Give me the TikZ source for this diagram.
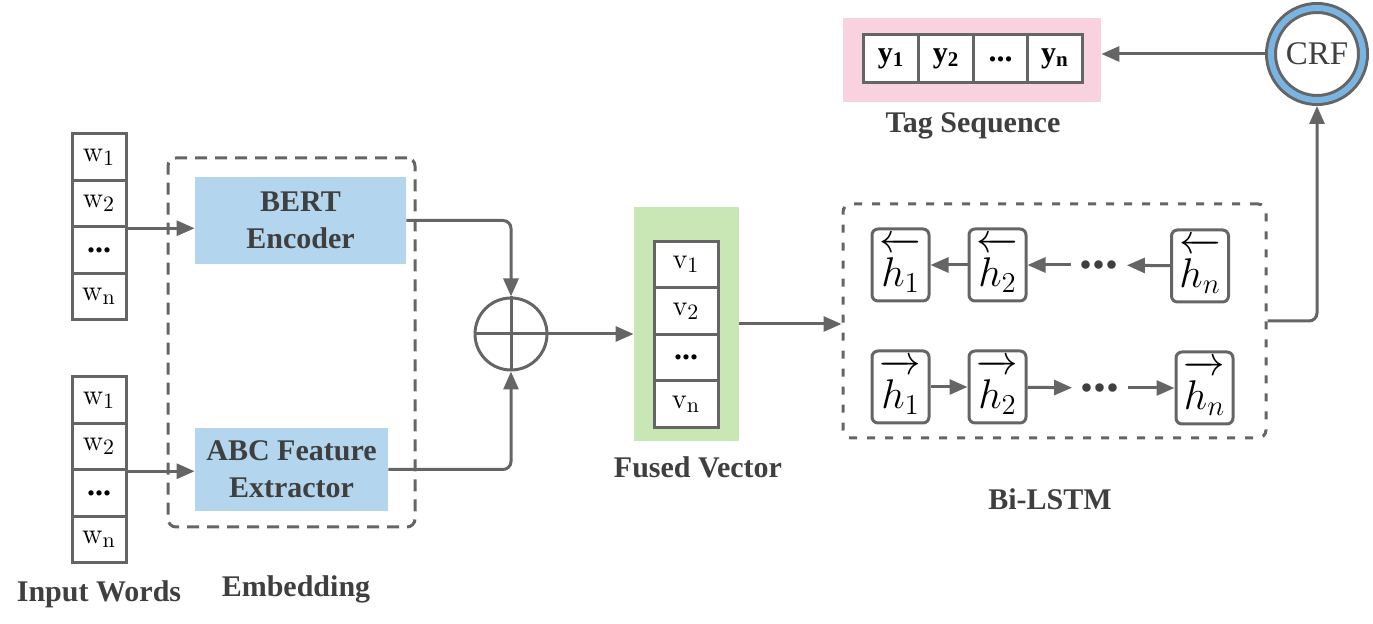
\documentclass[tikz,border=0pt]{standalone}
\usepackage{amsmath}
\usepackage[no-math]{fontspec}
\setmainfont{Liberation Serif}
\usetikzlibrary{arrows.meta}
\definecolor{linegray}{HTML}{656565}
\definecolor{textgray}{HTML}{3F3F3F}
\definecolor{bertblue}{HTML}{B3D6EE}
\definecolor{fusedgreen}{HTML}{C9E7B5}
\definecolor{tagpink}{HTML}{F8D3DF}
\definecolor{ringblue}{HTML}{79B4E2}
\newcommand{\celldots}{{\fontsize{16}{16}\selectfont\bfseries...}}
\newcommand{\bwd}[1]{\overleftarrow{\vrule height 0.86em width 0pt #1}}
\newcommand{\fwd}[1]{\overrightarrow{\vrule height 0.86em width 0pt #1}}
\tikzset{
    cell/.style={rectangle,draw=linegray,line width=1.5pt,fill=white,minimum width=27pt,minimum height=23.25pt,inner sep=0pt,font=\fontsize{15}{17}\selectfont},
    tagcell/.style={cell,minimum width=27.5pt,minimum height=24pt,font=\fontsize{15}{17}\selectfont\bfseries},
    encoder/.style={rectangle,fill=bertblue,align=center,text=textgray,font=\fontsize{15}{18.5}\selectfont\bfseries},
    group/.style={rectangle,draw=linegray,line width=1.5pt,dash pattern=on 6pt off 4pt,rounded corners=4pt},
    hidden/.style={rectangle,draw=linegray,line width=1.5pt,fill=white,rounded corners=3pt,minimum width=28.5pt,minimum height=36pt,inner sep=0pt,font=\fontsize{20}{24}\selectfont},
    ldots/.style={text=textgray,inner xsep=4pt,inner ysep=1pt,font=\fontsize{26}{26}\selectfont\bfseries},
    caption/.style={text=textgray,font=\fontsize{15}{18}\selectfont\bfseries},
    dedge/.style={->,>={Triangle[length=9pt,width=7.5pt]},draw=linegray,line width=1.5pt},
    edge/.style={-,draw=linegray,line width=1.5pt},
}
\begin{document}
\begin{tikzpicture}[x=0.5pt,y=-0.5pt]
    \useasboundingbox (0,0) rectangle (1373,624);
    % input words
    \node[cell] (wa1) at (99,157) {$\mathrm{w}_1$};
    \node[cell] (wa2) at (99,203.5) {$\mathrm{w}_2$};
    \node[cell] (wa3) at (99,250) {\celldots};
    \node[cell] (wa4) at (99,296.5) {$\mathrm{w}_\mathrm{n}$};
    \node[cell] (wb1) at (99,400) {$\mathrm{w}_1$};
    \node[cell] (wb2) at (99,446.5) {$\mathrm{w}_2$};
    \node[cell] (wb3) at (99,493) {\celldots};
    \node[cell] (wb4) at (99,539.5) {$\mathrm{w}_\mathrm{n}$};
    \node[caption] (inlabel) at (99,594) {Input Words};
    % embedding
    \node[group,minimum width=123.5pt,minimum height=184.5pt] (embed) at (291.5,342.5) {};
    \node[encoder,minimum width=105.5pt,minimum height=43.5pt] (bert) at (300.5,220.5) {BERT\\Encoder};
    \node[encoder,minimum width=96.5pt,minimum height=41.5pt] (abc) at (291.5,469.5) {ABC Feature\\Extractor};
    \node[caption] (emblabel) at (296,589) {Embedding};
    \node[circle,draw=linegray,line width=1.5pt,minimum size=36pt,inner sep=0pt] (plus) at (511,334) {};
    \draw[edge] (plus.north) -- (plus.south);
    \draw[edge] (plus.west) -- (plus.east);
    % fused vector
    \node[rectangle,fill=fusedgreen,minimum width=52.5pt,minimum height=117pt] (fused) at (686.5,324) {};
    \node[cell,minimum width=32pt] (v1) at (686,264.5) {$\mathrm{v}_1$};
    \node[cell,minimum width=32pt] (v2) at (686,311) {$\mathrm{v}_2$};
    \node[cell,minimum width=32pt] (v3) at (686,357.5) {\celldots};
    \node[cell,minimum width=32pt] (v4) at (686,404) {$\mathrm{v}_\mathrm{n}$};
    \node[caption] (fusedlabel) at (698,467) {Fused Vector};
    % bi-lstm
    \node[group,dash pattern=on 4pt off 5pt,minimum width=211.5pt,minimum height=117pt] (lstm) at (1054.5,321) {};
    \node[hidden] (hb1) at (900.5,265) {$\bwd{h_1}$};
    \node[hidden] (hb2) at (997.5,265) {$\bwd{h_2}$};
    \node[ldots] (db) at (1099,265) {...};
    \node[hidden] (hbn) at (1200,266) {$\bwd{h_n}$};
    \node[hidden] (hf1) at (900.5,387) {$\fwd{h_1}$};
    \node[hidden] (hf2) at (997.5,387) {$\fwd{h_2}$};
    \node[ldots] (df) at (1100,388) {...};
    \node[hidden] (hfn) at (1204.5,388) {$\fwd{h_n}$};
    \node[caption] (lstmlabel) at (1050,499) {Bi-LSTM};
    % crf and tags
    \node[circle,draw=linegray,double=ringblue,double distance=3pt,line width=1.5pt,fill=white,minimum size=46pt,inner sep=0pt,outer sep=3pt,text=textgray,font=\fontsize{16.5}{18}\selectfont] (crf) at (1317,54) {CRF};
    \node[rectangle,fill=tagpink,minimum width=129pt,minimum height=42pt] (tag) at (972,60) {};
    \node[tagcell] (y1) at (891,59) {y\textsubscript{1}};
    \node[tagcell] (y2) at (946,59) {y\textsubscript{2}};
    \node[tagcell] (y3) at (1000.5,59) {\celldots};
    \node[tagcell] (y4) at (1055,59) {y\textsubscript{n}};
    \node[caption] (taglabel) at (973,126) {Tag Sequence};
    % connectors
    \draw[dedge] (wa2.south east) -- (wa2.south east -| bert.west);
    \draw[dedge] (wb2.south east) -- (wb2.south east -| abc.west);
    \draw[dedge,rounded corners=4pt] (bert.east) -| (plus.north);
    \draw[dedge,rounded corners=4pt] (abc.east) -| (plus.south);
    \draw[dedge] (plus.east) -- (plus.east -| fused.west);
    \draw[dedge] (fused.east) -- (fused.east -| lstm.west);
    \draw[dedge] (hbn) -- (db);
    \draw[dedge] (db) -- (hb2);
    \draw[dedge] (hb2) -- (hb1);
    \draw[dedge] (hf1) -- (hf2);
    \draw[dedge] (hf2) -- (df);
    \draw[dedge] (df) -- (hfn);
    \draw[dedge,rounded corners=4pt] (lstm.east) -| (crf.south);
    \draw[dedge] (crf.west) -- (crf.west -| tag.east);
\end{tikzpicture}
\end{document}
